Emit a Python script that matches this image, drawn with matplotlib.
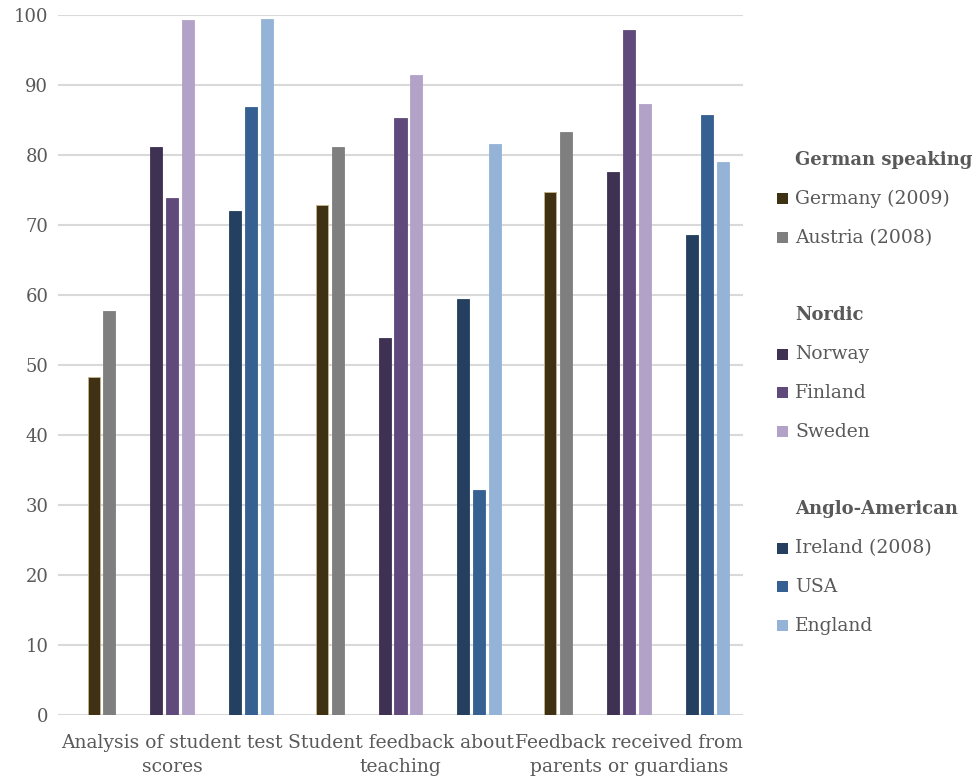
import matplotlib
matplotlib.use("Agg")
import matplotlib.pyplot as plt
from matplotlib.patches import Rectangle

# Categories (x axis)
categories = [
    "Analysis of student test\nscores",
    "Student feedback about\nteaching",
    "Feedback received from\nparents or guardians",
]

# Series values per category (%)
germany = [48.2, 72.8, 74.7]
austria = [57.7, 81.2, 83.3]
norway = [81.1, 53.8, 77.6]
finland = [73.8, 85.3, 97.8]
sweden = [99.3, 91.4, 87.3]
ireland = [72.0, 59.4, 68.6]
usa = [86.8, 32.1, 85.7]
england = [99.4, 81.6, 79.0]

series_names = ["Germany (2009)", "Austria (2008)", "Norway", "Finland", "Sweden",
                "Ireland (2008)", "USA", "England"]
series_values = [germany, austria, norway, finland, sweden, ireland, usa, england]
series_colors = ["#3f3113", "#7f7f7f", "#3f3151", "#604a7b", "#b3a2c7",
                 "#243f60", "#366092", "#95b3d7"]
# slot index of each series within a cluster (blank slots separate the regions)
series_slots = [-5, -4, -1, 0, 1, 4, 5, 6]

group_titles = ["German speaking", "Nordic", "Anglo-American"]
group_members = [[0, 1], [2, 3, 4], [5, 6, 7]]

yticks = [0, 10, 20, 30, 40, 50, 60, 70, 80, 90, 100]

TEXT = "#595959"
GRID = "#d9d9d9"
plt.rcParams["font.family"] = ["DejaVu Serif"]

W, H = 976, 781
fig = plt.figure(figsize=(W / 100, H / 100), dpi=100)
ax = fig.add_axes([58 / W, 1 - 714.5 / H, (743 - 58) / W, (714.5 - 15) / H])

slot = 0.0689
bar_w = 0.0526
for vals, col, s in zip(series_values, series_colors, series_slots):
    xs = [i + s * slot for i in range(len(categories))]
    edge = "#c8b48a" if col == "#3f3113" else col
    ax.bar(xs, vals, width=bar_w, color=col, edgecolor=edge, linewidth=0.6, zorder=3)

ax.set_xlim(-0.5, 2.5)
ax.set_ylim(0, 100)
ax.set_yticks(yticks)
ax.set_yticklabels([str(v) for v in yticks], fontsize=13, color=TEXT)
ax.set_xticks(range(len(categories)))
ax.set_xticklabels(categories, fontsize=13.5, color=TEXT, linespacing=1.45)
ax.tick_params(axis="both", length=0)
ax.tick_params(axis="y", pad=7)
ax.tick_params(axis="x", pad=14)
ax.grid(axis="y", color=GRID, linewidth=1.5, zorder=0)
for sp in ax.spines.values():
    sp.set_visible(False)

# Grouped legend on the right
row_h = 38.8
y0 = 160
row = 0
for title, members in zip(group_titles, group_members):
    y = y0 + row * row_h
    fig.text(795 / W, 1 - y / H, title, fontsize=13, fontweight="bold",
             color=TEXT, va="center", ha="left")
    row += 1
    for m in members:
        y = y0 + row * row_h
        fig.add_artist(Rectangle((777 / W, 1 - (y + 5.5) / H), 11 / W, 11 / H,
                                 transform=fig.transFigure,
                                 facecolor=series_colors[m], edgecolor="none"))
        fig.text(795 / W, 1 - y / H, series_names[m], fontsize=13.5,
                 color=TEXT, va="center", ha="left")
        row += 1
    row += 1

fig.savefig("out.png", dpi=100, facecolor="white")
